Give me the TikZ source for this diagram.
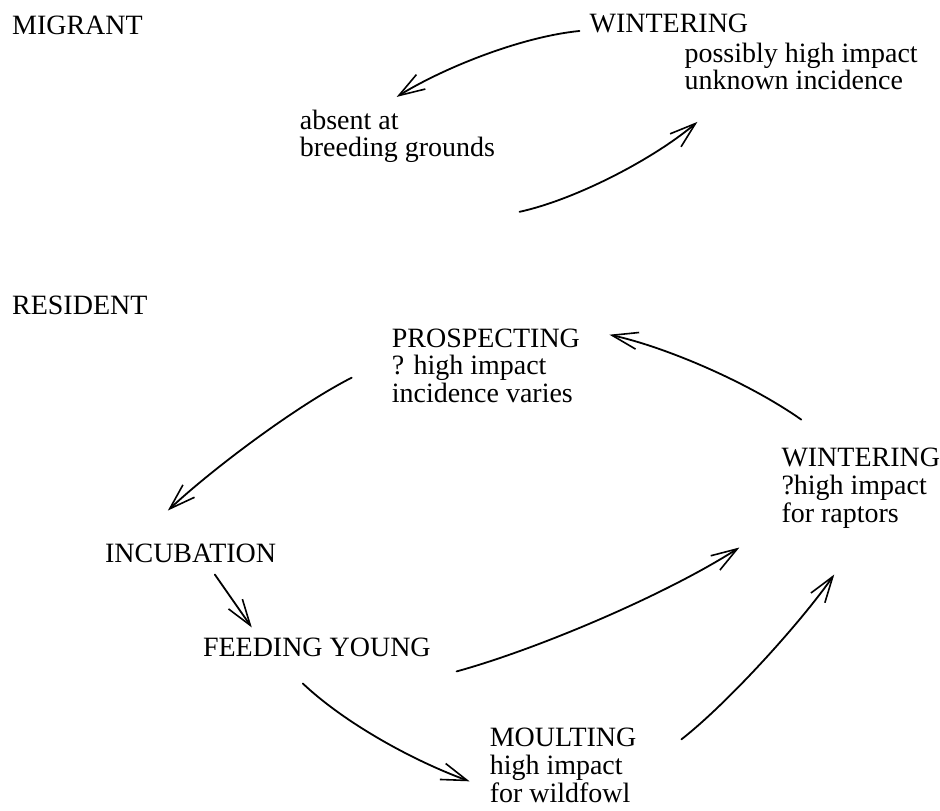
\documentclass[tikz,border=0pt]{standalone}
\usepackage{fontspec}
\setmainfont{Liberation Serif}
\usetikzlibrary{arrows.meta}

\tikzset{
  % multi-line labels sit on the baseline of their last line
  lbl/.style={anchor=base west, inner sep=0pt, align=left,
    font=\fontsize{28}{27.8}\selectfont},
  arr/.style={line width=1.8pt, line cap=round, line join=round,
    -{Straight Barb[length=26pt,width=17pt,line width=1.6pt]}},
}

\begin{document}
\begin{tikzpicture}[x=1pt,y=-1pt]
  % page area, white paper
  \fill[white] (0,0) rectangle (940,811);

  % group headings
  \node[lbl] (mig) at (12,35) {MIGRANT};
  \node[lbl] (res) at (12,315) {RESIDENT};

  % migrant cycle
  \node[lbl] (mwin)  at (590,33)  {WINTERING};
  \node[lbl] (mwinx) at (685,90)  {possibly high impact\\unknown incidence};
  \node[lbl] (mabs)  at (300,157) {absent at\\breeding grounds};

  % resident cycle
  \node[lbl] (pros) at (392,403) {PROSPECTING\\? high impact\\incidence varies};
  \node[lbl] (rwin) at (782,523) {WINTERING\\?high impact\\for raptors};
  \node[lbl] (inc)  at (105,563) {INCUBATION};
  \node[lbl] (feed) at (203,657) {FEEDING YOUNG};
  \node[lbl] (moul) at (490,803) {MOULTING\\high impact\\for wildfowl};

  % connector ends
  \coordinate (m1s) at (580,31);  \coordinate (m1e) at (397,97);
  \coordinate (m2s) at (520,212); \coordinate (m2e) at (698,122);
  \coordinate (r1s) at (802,420); \coordinate (r1e) at (610,335);
  \coordinate (r2s) at (352,378); \coordinate (r2e) at (168,511);
  \coordinate (r3s) at (215,575); \coordinate (r3e) at (252,628);
  \coordinate (r4s) at (457,672); \coordinate (r4e) at (740,548);
  \coordinate (r5s) at (303,684); \coordinate (r5e) at (470,782);
  \coordinate (r6s) at (682,740); \coordinate (r6e) at (835,575);

  % migrant arrows
  \draw[arr] (m1s) .. controls (520,37) and (442,69) .. (m1e);
  \draw[arr] (m2s) .. controls (575,200) and (653,160) .. (m2e);

  % resident arrows
  \draw[arr] (r1s) .. controls (748,382) and (665,347) .. (r1e);
  \draw[arr] (r2s) .. controls (297,406) and (213,469) .. (r2e);
  \draw[arr] (r3s) -- (r3e);
  \draw[arr] (r4s) .. controls (537,650) and (665,596) .. (r4e);
  \draw[arr] (r5s) .. controls (343,722) and (410,760) .. (r5e);
  \draw[arr] (r6s) .. controls (727,705) and (800,625) .. (r6e);
\end{tikzpicture}
\end{document}
